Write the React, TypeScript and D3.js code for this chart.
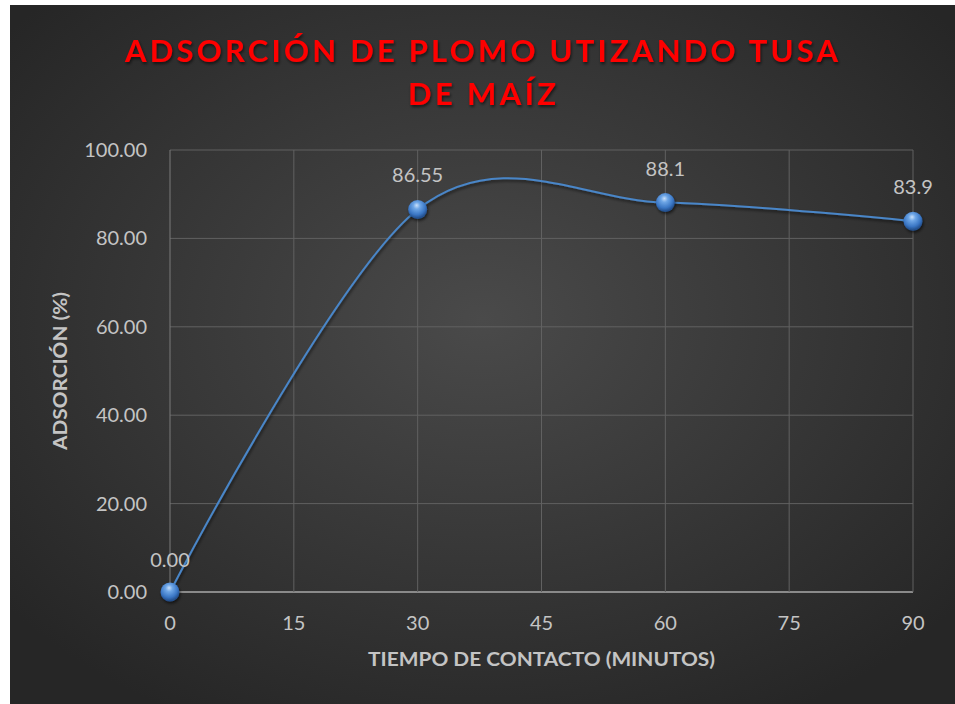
import * as d3 from 'd3';

const tiempos = [0, 30, 60, 90];
const adsorcion = [0, 86.55, 88.1, 83.9];
const etiquetas = ['0.00', '86.55', '88.1', '83.9'];
const xTicks = [0, 15, 30, 45, 60, 75, 90];
const yTicks = [0, 20, 40, 60, 80, 100];

const W = 955;
const H = 704;
const font = 'Lato, "Open Sans", sans-serif';
const titleFont = '"Liberation Sans Narrow", Lato, sans-serif';

const x = d3.scaleLinear().domain([0, 90]).range([170, 913]);
const y = d3.scaleLinear().domain([0, 100]).range([592, 150]);

const App = () => {
  const pts = tiempos.map((t, i) => [x(t), y(adsorcion[i])] as [number, number]);
  const line = d3.line().curve(d3.curveCardinal.tension(0))(pts) || '';

  return (
    <svg width={W} height={H} style={{ position: 'absolute', left: 0, top: 0 }}>
      <defs>
        <radialGradient id="bg" cx="50%" cy="45%" r="65%">
          <stop offset="0%" stopColor="#4a4a4a" />
          <stop offset="100%" stopColor="#262626" />
        </radialGradient>
        <radialGradient id="ball" cx="45%" cy="35%" r="60%" fx="45%" fy="28%">
          <stop offset="0%" stopColor="#c9e0fa" />
          <stop offset="30%" stopColor="#6ea6e6" />
          <stop offset="75%" stopColor="#3a76c4" />
          <stop offset="100%" stopColor="#24508e" />
        </radialGradient>
        <filter id="shadow" x="-50%" y="-50%" width="200%" height="200%">
          <feDropShadow dx="1" dy="2" stdDeviation="1.5" floodColor="#000" floodOpacity="0.6" />
        </filter>
      </defs>
      <rect x={0} y={0} width={W} height={H} fill="#fff" />
      <rect x={10} y={5} width={W - 10} height={H - 5} fill="url(#bg)" />

      {/* grid */}
      {yTicks.map(t => (
        <line key={'gy' + t} x1={x(0)} x2={x(90)} y1={y(t)} y2={y(t)}
          stroke={t === 0 ? '#8a8a8a' : '#616161'} strokeWidth={t === 0 ? 2 : 1} />
      ))}
      {xTicks.map(t => (
        <line key={'gx' + t} x1={x(t)} x2={x(t)} y1={y(100)} y2={y(0)}
          stroke={t === 0 ? '#7a7a7a' : '#616161'} strokeWidth={1} />
      ))}

      {/* tick labels */}
      {yTicks.map(t => (
        <text key={'ty' + t} x={147} y={y(t)} dy="0.35em" textAnchor="end"
          fontFamily={font} fontSize={20} fill="#c4c4c4">{t.toFixed(2)}</text>
      ))}
      {xTicks.map(t => (
        <text key={'tx' + t} x={x(t)} y={630} textAnchor="middle"
          fontFamily={font} fontSize={20} fill="#c4c4c4">{t}</text>
      ))}

      {/* series */}
      <path d={line} fill="none" stroke="#4a86c8" strokeWidth={2} filter="url(#shadow)" />
      {pts.map((p, i) => (
        <circle key={'p' + i} cx={p[0]} cy={p[1]} r={9.5} fill="url(#ball)" filter="url(#shadow)" />
      ))}
      {pts.map((p, i) => (
        <text key={'l' + i} x={p[0]} y={p[1] - (i === 0 ? 25 : 27)} textAnchor="middle"
          fontFamily={font} fontSize={20} fill="#c4c4c4">{etiquetas[i]}</text>
      ))}

      {/* title */}
      <g fontFamily={titleFont} fontWeight="bold" fontSize={31} fill="#ff0000" filter="url(#shadow)">
        <text x={125} y={62} textLength={713} lengthAdjust="spacing">ADSORCIÓN DE PLOMO UTIZANDO TUSA</text>
        <text x={408} y={105} textLength={148} lengthAdjust="spacing">DE MAÍZ</text>
      </g>

      {/* axis titles */}
      <text x={368} y={666} textLength={347} lengthAdjust="spacingAndGlyphs"
        fontFamily={font} fontWeight="bold" fontSize={19} fill="#c4c4c4">TIEMPO DE CONTACTO (MINUTOS)</text>
      <text transform="translate(67,371) rotate(-90)" textAnchor="middle" textLength={158} lengthAdjust="spacingAndGlyphs"
        fontFamily={font} fontWeight="bold" fontSize={19} fill="#c4c4c4">ADSORCIÓN (%)</text>
    </svg>
  );
};

export default App;
